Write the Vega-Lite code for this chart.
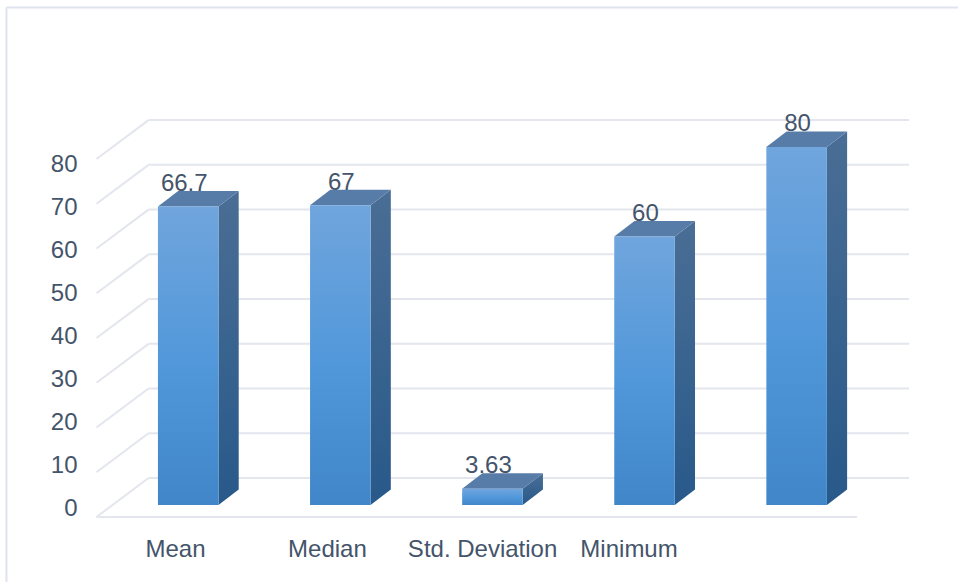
{
  "$schema": "https://vega.github.io/schema/vega-lite/v6.json",
  "width": 760.5,
  "height": 509.5,
  "padding": {"left": 96.5, "top": 7.5, "right": 101, "bottom": 65},
  "autosize": {"type": "none"},
  "background": "#ffffff",
  "config": {"view": {"stroke": null}},
  "datasets": {
    "stats": [
      {"stat": "Mean", "value": 66.7},
      {"stat": "Median", "value": 67},
      {"stat": "Std. Deviation", "value": 3.63},
      {"stat": "Minimum", "value": 60},
      {"stat": "Maximum", "value": 80}
    ],
    "levels": [
      {"level": 0}, {"level": 10}, {"level": 20}, {"level": 30}, {"level": 40},
      {"level": 50}, {"level": 60}, {"level": 70}, {"level": 80}
    ]
  },
  "resolve": {"scale": {"y": "independent"}, "axis": {"y": "independent"}},
  "layer": [
    {
      "data": {"name": "levels"},
      "mark": {"type": "rule", "opacity": 0},
      "encoding": {
        "y": {
          "field": "level",
          "type": "quantitative",
          "scale": {"domain": [-1.87, 116.62], "nice": false, "zero": false},
          "axis": {
            "title": null,
            "values": [0, 10, 20, 30, 40, 50, 60, 70, 80],
            "domain": false,
            "ticks": false,
            "grid": false,
            "labelFont": "Liberation Sans",
            "labelFontSize": 24,
            "labelColor": "#44546a",
            "labelPadding": 19.5,
            "labelAlign": "right",
            "labelBaseline": "middle"
          }
        }
      }
    },
    {
      "layer": [
        {
          "data": {"values": [{}]},
          "mark": {"type": "rule", "color": "#dfe3ef", "strokeWidth": 2},
          "encoding": {
            "x": {
              "datum": -0.592,
              "type": "quantitative",
              "scale": {"domain": [0, 5], "nice": false, "zero": false},
              "axis": {
                "title": null,
                "values": [0.516, 1.515, 2.535, 3.498],
                "labelExpr": "['Mean', 'Median', 'Std. Deviation', 'Minimum'][floor(datum.value)]",
                "domain": false,
                "ticks": false,
                "grid": false,
                "labelFont": "Liberation Sans",
                "labelFontSize": 24,
                "labelColor": "#44546a",
                "labelPadding": 20,
                "labelAlign": "center",
                "labelFlush": false,
                "labelOverlap": false
              }
            },
            "y": {
              "datum": 111.18,
              "type": "quantitative",
              "scale": {"domain": [-2.68, 111.18], "nice": false, "zero": false},
              "axis": null
            },
            "y2": {"datum": -17.2}
          }
        },
        {
          "data": {"values": [{}]},
          "mark": {"type": "rule", "color": "#dfe3ef", "strokeWidth": 2},
          "encoding": {
            "x": {"datum": -0.592, "type": "quantitative"},
            "x2": {"datum": 5.664},
            "y": {"datum": 111.18, "type": "quantitative"}
          }
        },
        {
          "data": {"name": "levels"},
          "transform": [
            {"calculate": "datum.level - 2.68", "as": "front"},
            {"calculate": "datum.front + 8.7", "as": "back"},
            {"calculate": "0", "as": "xFront"},
            {"calculate": "0.342", "as": "xBack"}
          ],
          "mark": {"type": "rule", "color": "#e4e6ee", "strokeWidth": 2},
          "encoding": {
            "x": {"field": "xFront", "type": "quantitative"},
            "x2": {"field": "xBack"},
            "y": {"field": "front", "type": "quantitative"},
            "y2": {"field": "back"}
          }
        },
        {
          "data": {"name": "levels"},
          "transform": [
            {"calculate": "datum.level - 2.68 + 8.7", "as": "back"},
            {"calculate": "0.342", "as": "xStart"},
            {"calculate": "5.342", "as": "xEnd"}
          ],
          "mark": {"type": "rule", "color": "#e4e6ee", "strokeWidth": 2},
          "encoding": {
            "x": {"field": "xStart", "type": "quantitative"},
            "x2": {"field": "xEnd"},
            "y": {"field": "back", "type": "quantitative"}
          }
        },
        {
          "data": {"values": [{"level": 0}]},
          "transform": [
            {"calculate": "datum.level - 2.68", "as": "front"},
            {"calculate": "0", "as": "xStart"},
            {"calculate": "5", "as": "xEnd"}
          ],
          "mark": {"type": "rule", "color": "#e4e6ee", "strokeWidth": 2},
          "encoding": {
            "x": {"field": "xStart", "type": "quantitative"},
            "x2": {"field": "xEnd"},
            "y": {"field": "front", "type": "quantitative"}
          }
        },
        {
          "data": {"name": "stats"},
          "transform": [
            {"window": [{"op": "row_number", "as": "rank"}]},
            {"calculate": "datum.rank - 1 + 0.404 + 0.199 + (length(toString(datum.value)) > 2 ? -0.026 : 0.006)", "as": "labelX"},
            {"calculate": "datum.value + 3.47", "as": "labelY"}
          ],
          "mark": {
            "type": "text",
            "font": "Liberation Sans",
            "fontSize": 24,
            "color": "#44546a",
            "align": "center",
            "baseline": "alphabetic"
          },
          "encoding": {
            "x": {"field": "labelX", "type": "quantitative"},
            "y": {"field": "labelY", "type": "quantitative"},
            "text": {"field": "value", "type": "nominal"}
          }
        },
        {
          "data": {"name": "stats"},
          "transform": [
            {"window": [{"op": "row_number", "as": "rank"}]},
            {"calculate": "[0, 1]", "as": "edge"},
            {"flatten": ["edge"]},
            {"calculate": "datum.rank - 1 + 0.802 + datum.edge * 0.133", "as": "sideX"},
            {"calculate": "datum.edge * 3.47", "as": "sideLow"},
            {"calculate": "datum.value + datum.edge * 3.47", "as": "sideHigh"}
          ],
          "mark": {
            "type": "area",
            "orient": "vertical",
            "fill": {
              "gradient": "linear",
              "x1": 0, "y1": 0, "x2": 0, "y2": 1,
              "stops": [
                {"offset": 0, "color": "#4a6e95"},
                {"offset": 1, "color": "#28598a"}
              ]
            }
          },
          "encoding": {
            "x": {"field": "sideX", "type": "quantitative"},
            "y": {"field": "sideHigh", "type": "quantitative"},
            "y2": {"field": "sideLow"},
            "detail": {"field": "stat"}
          }
        },
        {
          "data": {"name": "stats"},
          "transform": [
            {"window": [{"op": "row_number", "as": "rank"}]},
            {"calculate": "[0, 1]", "as": "edge"},
            {"flatten": ["edge"]},
            {"calculate": "datum.rank - 1 + 0.404 + datum.edge * 0.133", "as": "topLeft"},
            {"calculate": "datum.topLeft + 0.398", "as": "topRight"},
            {"calculate": "datum.value + datum.edge * 3.47", "as": "topY"}
          ],
          "mark": {"type": "area", "orient": "horizontal", "fill": "#587ca8"},
          "encoding": {
            "x": {"field": "topLeft", "type": "quantitative"},
            "x2": {"field": "topRight"},
            "y": {"field": "topY", "type": "quantitative"},
            "detail": {"field": "stat"}
          }
        },
        {
          "data": {"name": "stats"},
          "transform": [
            {"window": [{"op": "row_number", "as": "rank"}]},
            {"calculate": "datum.rank - 1 + 0.404", "as": "frontLeft"},
            {"calculate": "datum.frontLeft + 0.398", "as": "frontRight"},
            {"calculate": "0", "as": "base"}
          ],
          "mark": {
            "type": "rect",
            "fill": {
              "gradient": "linear",
              "x1": 0, "y1": 0, "x2": 0, "y2": 1,
              "stops": [
                {"offset": 0, "color": "#70a5dd"},
                {"offset": 0.55, "color": "#5097da"},
                {"offset": 1, "color": "#4086c8"}
              ]
            }
          },
          "encoding": {
            "x": {"field": "frontLeft", "type": "quantitative"},
            "x2": {"field": "frontRight"},
            "y": {"field": "value", "type": "quantitative"},
            "y2": {"field": "base"}
          }
        }
      ]
    }
  ]
}
